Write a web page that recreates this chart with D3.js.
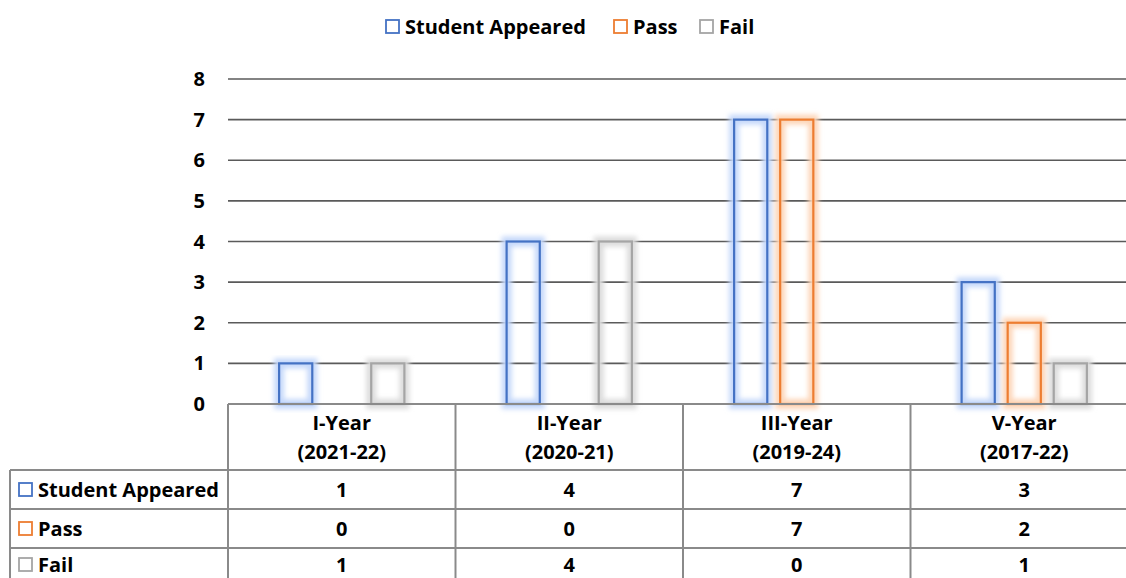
<!DOCTYPE html>
<html>
<head>
<meta charset="utf-8">
<script src="https://cdn.jsdelivr.net/npm/d3@7"></script>
<style>
  body { margin: 0; background: #fff; }
  svg { display: block; font-family: "Open Sans", Lato, sans-serif; font-weight: 700; }
</style>
</head>
<body>
<div id="chart"></div>
<script>
// data
const categories = ["I-Year\n(2021-22)", "II-Year\n(2020-21)", "III-Year\n(2019-24)", "V-Year\n(2017-22)"];
const seriesNames = ["Student Appeared", "Pass", "Fail"];
const studentAppeared = [1, 4, 7, 3];
const pass = [0, 0, 7, 2];
const fail = [1, 4, 0, 1];
const yTicks = [0, 1, 2, 3, 4, 5, 6, 7, 8];

const colors = ["#4472c4", "#ed7d31", "#a5a5a5"];
const glowColors = ["#c5d8fa", "#fdd5b8", "#dcdcdc"];

const W = 1126, H = 578;
const plot = {left: 228, right: 1138, top: 79, bottom: 404};
const fs = 20;

const allValues = [studentAppeared, pass, fail];

const svg = d3.select("#chart").append("svg")
    .attr("width", W)
    .attr("height", H);

// glow filter
const defs = svg.append("defs");
const f = defs.append("filter").attr("id", "glow")
    .attr("x", "-50%").attr("y", "-20%").attr("width", "200%").attr("height", "140%");
f.append("feGaussianBlur").attr("stdDeviation", 2.5);

const x0 = d3.scaleBand()
    .domain(categories)
    .range([plot.left, plot.right])
    .padding(0);

const x1 = d3.scaleBand()
    .domain(seriesNames)
    .range([0, x0.bandwidth()])
    .paddingInner(0.28)
    .paddingOuter(1.11);

const y = d3.scaleLinear()
    .domain([0, 8])
    .range([plot.bottom, plot.top]);

// gridlines
svg.append("g")
    .selectAll("line")
    .data(yTicks)
    .join("line")
    .attr("x1", plot.left)
    .attr("x2", W)
    .attr("y1", d => y(d))
    .attr("y2", d => y(d))
    .attr("stroke", "#5a5a5a")
    .attr("stroke-width", 1.6);

// y axis labels
svg.append("g")
    .selectAll("text")
    .data(yTicks)
    .join("text")
    .attr("x", 205)
    .attr("y", d => y(d))
    .attr("dy", "0.35em")
    .attr("text-anchor", "end")
    .attr("font-size", fs)
    .attr("fill", "#000")
    .text(d => d);

// bars
const barData = [];
categories.forEach((c, i) => {
    seriesNames.forEach((s, j) => {
        barData.push({cat: c, series: s, idx: j, value: allValues[j][i]});
    });
});

const bars = svg.append("g").attr("class", "bars");

bars.selectAll("rect.glow")
    .data(barData.filter(d => d.value > 0))
    .join("rect")
    .attr("class", "glow")
    .attr("x", d => x0(d.cat) + x1(d.series))
    .attr("y", d => y(d.value))
    .attr("width", x1.bandwidth())
    .attr("height", d => y(0) - y(d.value))
    .attr("fill", "none")
    .attr("stroke", d => glowColors[d.idx])
    .attr("stroke-width", 10)
    .attr("filter", "url(#glow)");

bars.selectAll("rect.bar")
    .data(barData.filter(d => d.value > 0))
    .join("rect")
    .attr("class", "bar")
    .attr("x", d => x0(d.cat) + x1(d.series))
    .attr("y", d => y(d.value))
    .attr("width", x1.bandwidth())
    .attr("height", d => y(0) - y(d.value))
    .attr("fill", "none")
    .attr("stroke", d => colors[d.idx])
    .attr("stroke-width", 2.2);

// baseline redraw on top
svg.append("line")
    .attr("x1", plot.left).attr("x2", W)
    .attr("y1", y(0)).attr("y2", y(0))
    .attr("stroke", "#8a8a8a").attr("stroke-width", 2);

// data table
const rowTop = 470, rowH = 39, tableLeft = 10;
const tbl = svg.append("g").attr("class", "table");
const lineColor = "#8a8a8a";

// horizontal lines
[0, 1, 2].forEach(r => {
    tbl.append("line")
        .attr("x1", tableLeft).attr("x2", W)
        .attr("y1", rowTop + r * rowH).attr("y2", rowTop + r * rowH)
        .attr("stroke", lineColor).attr("stroke-width", 2);
});
// vertical lines
tbl.append("line")
    .attr("x1", tableLeft).attr("x2", tableLeft)
    .attr("y1", rowTop).attr("y2", H)
    .attr("stroke", lineColor).attr("stroke-width", 2);
tbl.selectAll("line.v")
    .data(categories)
    .join("line")
    .attr("class", "v")
    .attr("x1", d => x0(d)).attr("x2", d => x0(d))
    .attr("y1", plot.bottom).attr("y2", H)
    .attr("stroke", lineColor).attr("stroke-width", 2);

// header labels
const hdr = tbl.selectAll("text.hdr")
    .data(categories)
    .join("text")
    .attr("class", "hdr")
    .attr("text-anchor", "middle")
    .attr("font-size", fs)
    .attr("fill", "#000");
hdr.each(function(d) {
    const lines = d.split("\n");
    const t = d3.select(this);
    lines.forEach((l, k) => {
        t.append("tspan")
            .attr("x", x0(d) + x0.bandwidth() / 2)
            .attr("y", 423 + k * 29)
            .attr("dy", "0.35em")
            .text(l);
    });
});

// row labels with legend keys (last row is cut by the picture edge, nudge up a bit)
seriesNames.forEach((s, j) => {
    const cy = rowTop + j * rowH + rowH / 2 - (j === 2 ? 3 : 0);
    tbl.append("rect")
        .attr("x", 19).attr("y", cy - 6.5)
        .attr("width", 13).attr("height", 13)
        .attr("fill", "none")
        .attr("stroke", colors[j]).attr("stroke-width", 1.8);
    tbl.append("text")
        .attr("x", 38).attr("y", cy)
        .attr("dy", "0.35em")
        .attr("font-size", fs)
        .attr("fill", "#000")
        .text(s);
    tbl.selectAll("text.val" + j)
        .data(categories)
        .join("text")
        .attr("class", "val" + j)
        .attr("x", d => x0(d) + x0.bandwidth() / 2)
        .attr("y", cy)
        .attr("dy", "0.35em")
        .attr("text-anchor", "middle")
        .attr("font-size", fs)
        .attr("fill", "#000")
        .text((d, i) => allValues[j][i]);
});

// top legend
const legendItems = [
    {name: "Student Appeared", x: 386},
    {name: "Pass", x: 614},
    {name: "Fail", x: 700}
];
const lg = svg.append("g").attr("class", "legend");
legendItems.forEach((it, j) => {
    lg.append("rect")
        .attr("x", it.x).attr("y", 20)
        .attr("width", 13).attr("height", 13)
        .attr("fill", "none")
        .attr("stroke", colors[j]).attr("stroke-width", 1.8);
    lg.append("text")
        .attr("x", it.x + 19).attr("y", 27)
        .attr("dy", "0.35em")
        .attr("font-size", fs)
        .attr("fill", "#000")
        .text(seriesNames[j]);
});
</script>
</body>
</html>
